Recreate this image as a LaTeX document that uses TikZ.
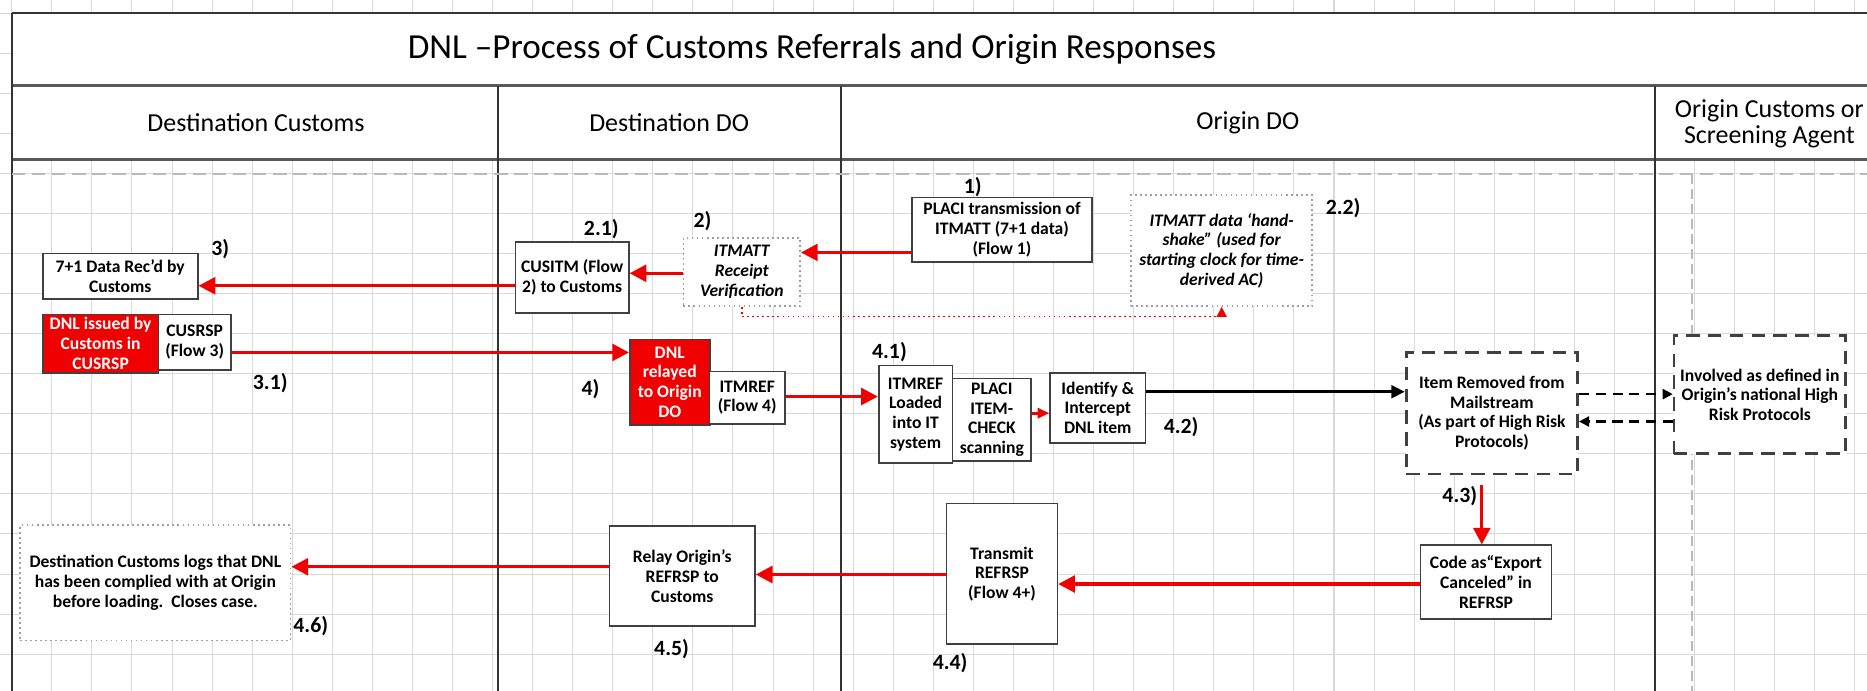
\documentclass[tikz,border=0pt]{standalone}
\usepackage{fontspec}
\setmainfont{Carlito}
\usetikzlibrary{arrows.meta, positioning, calc}
\definecolor{dnlred}{RGB}{240,0,0}
\definecolor{boxgray}{RGB}{64,64,64}
\definecolor{gridgray}{RGB}{217,217,217}
\definecolor{lanegray}{RGB}{51,51,51}
\newcommand\boxfont{\bfseries\fontsize{10.5}{11.8}\selectfont}

\begin{document}
\begin{tikzpicture}[x=0.025cm, y=-0.025cm,
    box/.style={rectangle, draw=boxgray, line width=1pt, fill=white, align=center, font=\boxfont, inner sep=0.5pt},
    redbox/.style={box, fill=dnlred, text=white},
    dotbox/.style={box, draw=gray!75, dotted},
    dashbox/.style={box, line width=1.6pt, dash pattern=on 8pt off 5pt},
    stepno/.style={font=\bfseries\fontsize{13}{15}\selectfont, inner sep=0pt},
    lanehead/.style={align=center, font=\fontsize{15.5}{16}\selectfont},
    redarrow/.style={draw=dnlred, line width=2pt, -{Triangle[length=10pt, width=10pt]}},
    blackarrow/.style={draw=black, line width=1.7pt, -{Triangle[length=8pt, width=7.5pt]}},
    dasharrow/.style={draw=black, line width=1.3pt, dash pattern=on 6pt off 4pt, -{Triangle[length=6pt, width=6pt]}},
    reddotted/.style={draw=dnlred, line width=1pt, dotted, -{Triangle[length=6pt, width=6pt]}},
    gridline/.style={draw=gridgray, line width=0.6pt},
    laneline/.style={draw=lanegray, line width=1.2pt},
]
\useasboundingbox (0,0) rectangle (1568,580);
\clip (0,0) rectangle (1568,580);

% Grid
\foreach \gx in {0,...,47}
  \draw[gridline] ({9.9+33.65*\gx},0) -- ({9.9+33.65*\gx},580);
\foreach \gy in {0,...,17}
  \draw[gridline] (0,{11+33.65*\gy}) -- (1568,{11+33.65*\gy});

% Frame and lanes
\fill[white] (10,11) rectangle (1600,134);
\draw[laneline, line width=1.6pt] (10,11) -- (1600,11);
\draw[laneline, line width=2pt, draw=gray!70!black] (10,72) -- (1600,72);
\draw[laneline, line width=2pt, draw=gray!70!black] (10,134) -- (1600,134);
\draw[laneline] (10,11) -- (10,600);
\draw[laneline] (418,72) -- (418,600);
\draw[laneline] (706,72) -- (706,600);
\draw[laneline] (1390,72) -- (1390,600);
\draw[gray!55, line width=0.8pt, dash pattern=on 8pt off 4pt] (10,146) -- (1600,146);
\draw[gray!55, line width=0.8pt, dash pattern=on 6pt off 3pt] (1421,146) -- (1421,600);

% Title and lane heads
\node[font=\fontsize{21}{25}\selectfont] (title) at (682,41) {DNL –Process of Customs Referrals and Origin Responses};
\node[lanehead] (headDestCustoms) at (215,103) {Destination Customs};
\node[lanehead] (headDestDO) at (562,103) {Destination DO};
\node[lanehead] (headOriginDO) at (1048,103) {Origin DO};
\node[lanehead] (headOriginCustoms) at (1486,104) {Origin Customs or\\Screening Agent};

% Destination Customs
\node[box, minimum width=3.25cm, minimum height=0.95cm] (dataRecd) at (101,232) {7+1 Data Rec’d by\\Customs};
\node[redbox, minimum width=2.425cm, minimum height=1.225cm] (dnlIssued) at (84.5,288.5) {DNL issued by\\Customs in\\CUSRSP};
\node[box, minimum width=1.525cm, minimum height=1.175cm] (cusrsp) at (163.5,287.5) {CUSRSP\\(Flow 3)};
\node[dotbox, minimum width=5.675cm, minimum height=2.425cm] (logs) at (130.5,489.5) {Destination Customs logs that DNL\\has been complied with at Origin\\before loading.\ \ Closes case.};

% Destination DO
\node[box, minimum width=2.375cm, minimum height=1.5cm] (cusitm) at (480.5,233) {CUSITM (Flow\\2) to Customs};
\node[dotbox, font=\boxfont\itshape, minimum width=2.45cm, minimum height=1.425cm] (receipt) at (623,228.5) {ITMATT\\Receipt\\Verification};
\node[redbox, minimum width=1.675cm, minimum height=1.8cm] (dnlRelayed) at (562.5,321) {DNL\\relayed\\to Origin\\DO};
\node[box, minimum width=1.575cm, minimum height=1.1cm] (itmref) at (627.5,334) {ITMREF\\(Flow 4)};
\node[box, minimum width=3.05cm, minimum height=2.1cm] (relay) at (573,484) {Relay Origin’s\\REFRSP to\\Customs};

% Origin DO
\node[box, minimum width=3.775cm, minimum height=1.35cm] (placi) at (841.5,193) {PLACI transmission of\\ITMATT (7+1 data)\\(Flow 1)};
\node[dotbox, font=\boxfont\itshape, minimum width=3.8cm, minimum height=2.325cm] (handshake) at (1026,210.5) {ITMATT data ‘hand-\\shake”  (used for\\starting clock for time-\\derived AC)};
\node[box, minimum width=1.55cm, minimum height=2.05cm] (loaded) at (769,348) {ITMREF\\Loaded\\into IT\\system};
\node[box, minimum width=1.65cm, minimum height=1.725cm] (itemCheck) at (833,352.5) {PLACI\\ITEM-\\CHECK\\scanning};
\node[box, minimum width=2cm, minimum height=1.475cm] (identify) at (922,342.5) {Identify \&\\Intercept\\DNL item};
\node[dashbox, minimum width=3.6cm, minimum height=2.55cm] (removed) at (1253,347) {Item Removed from\\Mailstream\\(As part of High Risk\\Protocols)};
\node[box, minimum width=2.75cm, minimum height=1.55cm] (codeCanceled) at (1248,489) {Code as“Export\\Canceled” in\\REFRSP};
\node[box, minimum width=2.325cm, minimum height=2.95cm] (transmit) at (841.5,482) {Transmit\\REFRSP\\(Flow 4+)};

% Origin Customs or Screening Agent
\node[dashbox, minimum width=3.6cm, minimum height=2.475cm] (involved) at (1478,331.5) {Involved as defined in\\Origin’s national High\\Risk Protocols};

% Step numbers
\node[stepno] (s1) at (817,157) {1)};
\node[stepno] (s2) at (590,186) {2)};
\node[stepno] (s21) at (505,192) {2.1)};
\node[stepno] (s22) at (1128,175) {2.2)};
\node[stepno] (s3) at (185,209) {3)};
\node[stepno] (s31) at (227,322) {3.1)};
\node[stepno] (s4) at (496,327) {4)};
\node[stepno] (s41) at (747,296) {4.1)};
\node[stepno] (s42) at (992,359) {4.2)};
\node[stepno] (s43) at (1226,417) {4.3)};
\node[stepno] (s44) at (798,557) {4.4)};
\node[stepno] (s45) at (564,545) {4.5)};
\node[stepno] (s46) at (261,526) {4.6)};

% Arrows
\draw[redarrow] (placi.west |- 0,212) -- (receipt.east |- 0,212);
\draw[redarrow] (receipt.west |- 0,229.5) -- (cusitm.east |- 0,229.5);
\draw[redarrow] (cusitm.west |- 0,240) -- (dataRecd.east |- 0,240);
\draw[reddotted] (receipt.south) -- ++(0,8) -| (handshake.south);
\draw[redarrow] (cusrsp.east |- 0,296) -- (dnlRelayed.west |- 0,296);
\draw[redarrow] (itmref.east |- 0,333) -- (loaded.west |- 0,333);
\draw[redarrow, -{Triangle[length=7pt, width=6pt]}] (itemCheck.east |- 0,347) -- (identify.west |- 0,347);
\draw[blackarrow] (identify.east |- 0,329) -- (removed.west |- 0,329);
\draw[dasharrow] (removed.east |- 0,331) -- (involved.west |- 0,331);
\draw[dasharrow] (involved.west |- 0,354) -- (removed.east |- 0,354);
\draw[redarrow, shorten <=0.2cm] (removed.south -| 1244.5,0) -- (codeCanceled.north -| 1244.5,0);
\draw[redarrow] (codeCanceled.west |- 0,490.5) -- (transmit.east |- 0,490.5);
\draw[redarrow] (transmit.west |- 0,482.5) -- (relay.east |- 0,482.5);
\draw[redarrow] (relay.west |- 0,476) -- (logs.east |- 0,476);

\end{tikzpicture}
\end{document}
